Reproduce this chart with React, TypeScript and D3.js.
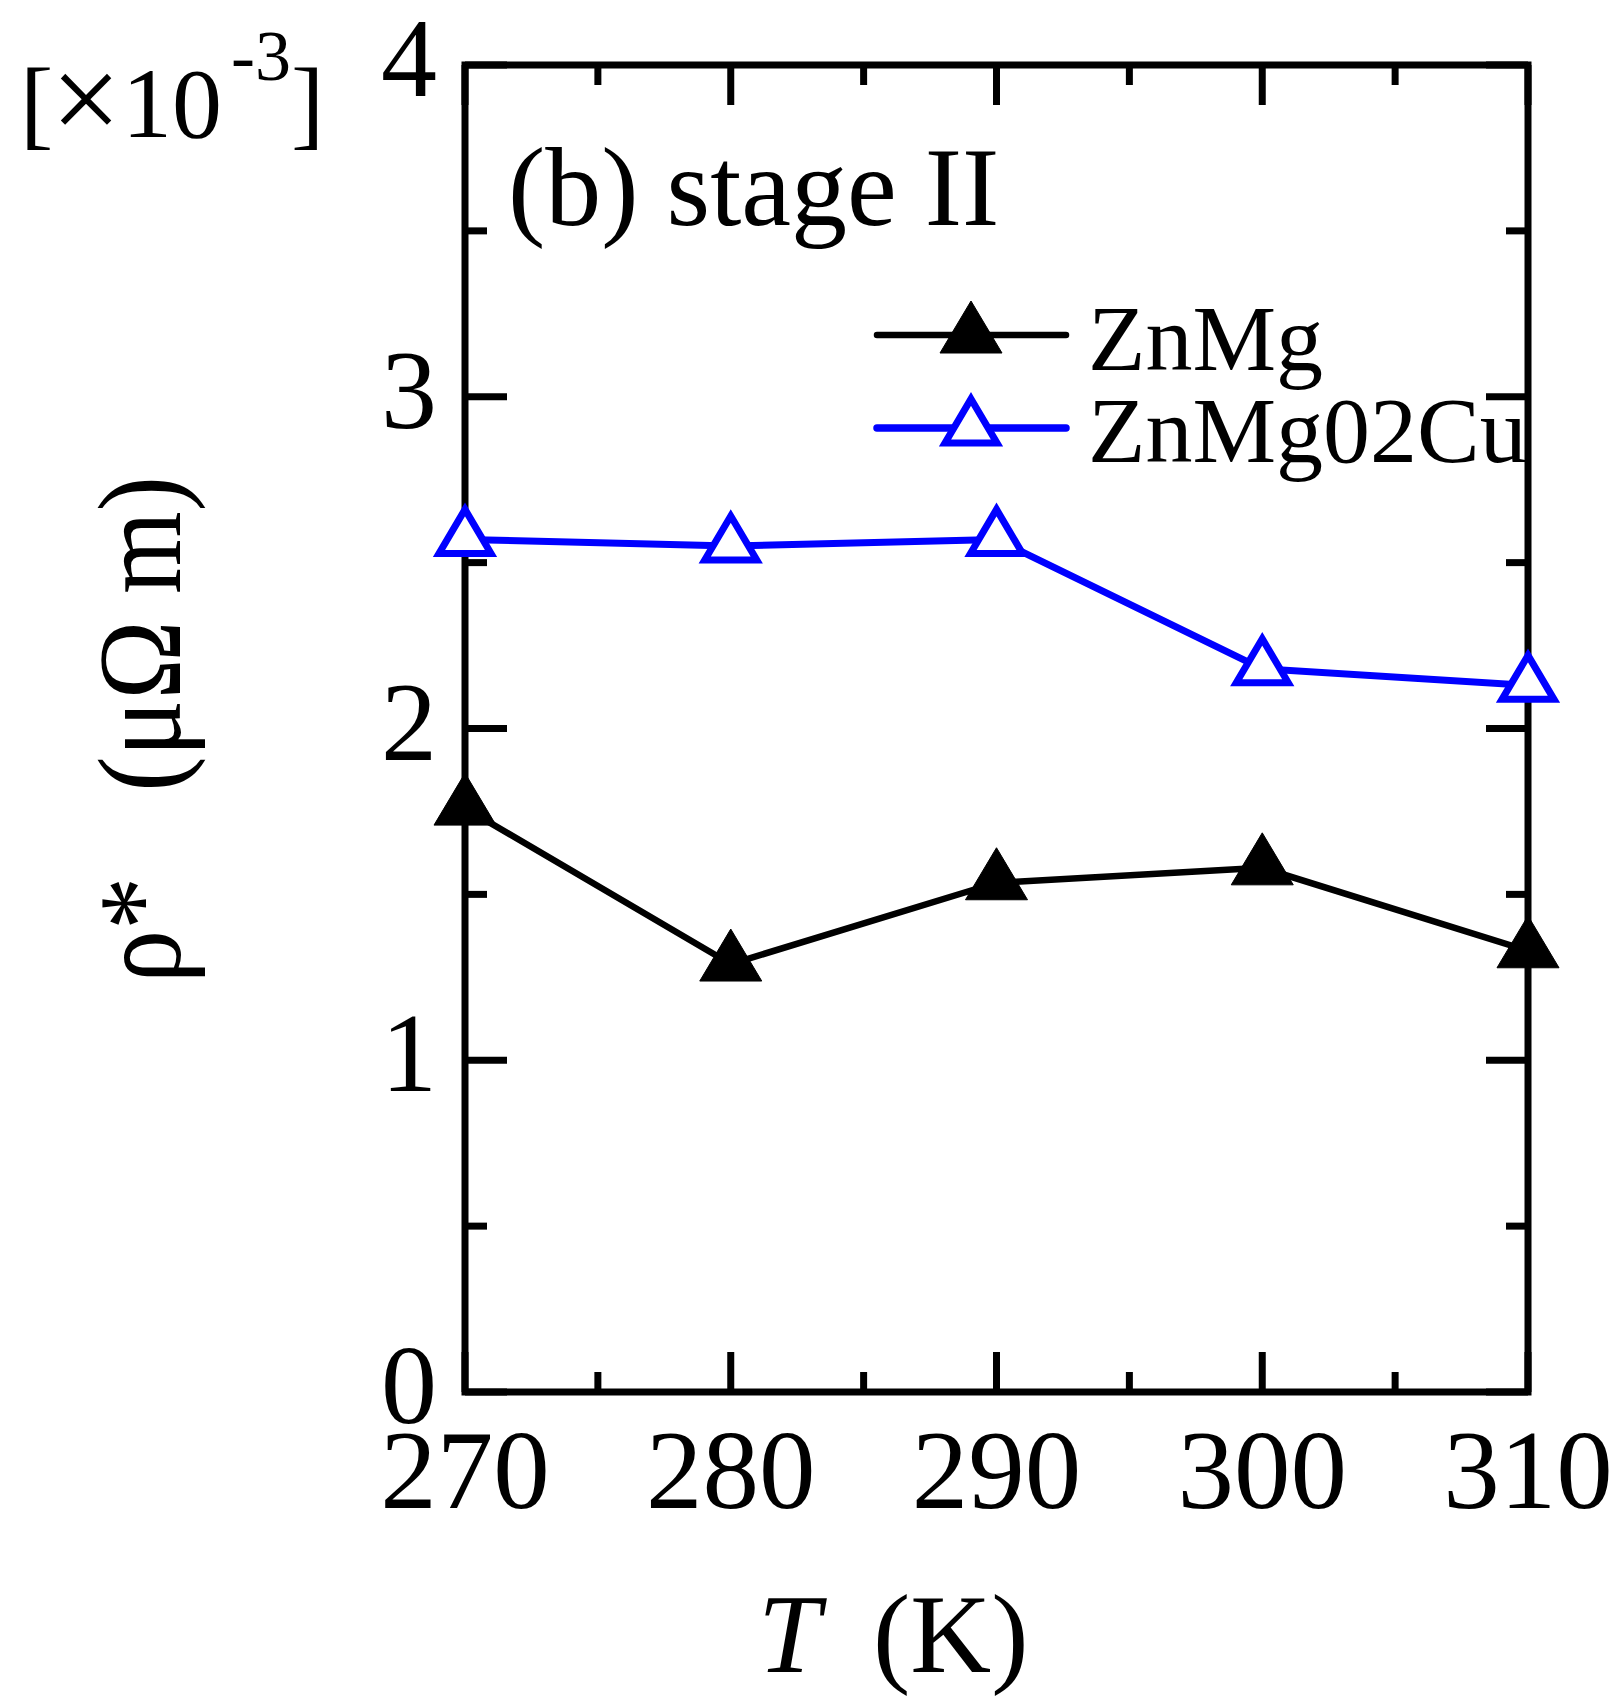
import React from "react";
import * as d3 from "d3";

// Temperatures (K) and ρ* values (×10⁻³ μΩ m) for stage II
const temps = [270, 280, 290, 300, 310];
const znMg = [1.76, 1.29, 1.535, 1.58, 1.33];
const znMg02Cu = [2.57, 2.55, 2.57, 2.18, 2.13];

const xMajor = [270, 280, 290, 300, 310];
const xMinor = [275, 285, 295, 305];
const yMajor = [0, 1, 2, 3, 4];
const yMinor = [0.5, 1.5, 2.5, 3.5];

const seriesNames = ["ZnMg", "ZnMg02Cu"];

const W = 1619;
const H = 1697;
const FONT = "'Liberation Serif', 'Times New Roman', Times, serif";

const x = d3.scaleLinear().domain([270, 310]).range([465, 1528]);
const y = d3.scaleLinear().domain([0, 4]).range([1392, 65]);

const filledTri = "M0,-35 L31,17 L-31,17 Z";
const openTri = "M0,-30 L26,14 L-26,14 Z";

export default function App() {
  const line = d3
    .line<number>()
    .x((_, i) => x(temps[i]))
    .y((d) => y(d));

  const [x0, x1] = x.range();
  const [yb, yt] = y.range();
  const major = 42;
  const minor = 22;
  const axisW = 7;

  return (
    <svg
      width={W}
      height={H}
      style={{ position: "absolute", left: 0, top: 0, background: "#fff" }}
      fontFamily={FONT}
    >
      <rect width={W} height={H} fill="#fff" />

      {/* frame */}
      <rect
        x={x0}
        y={yt}
        width={x1 - x0}
        height={yb - yt}
        fill="none"
        stroke="#000"
        strokeWidth={axisW}
      />

      {/* x ticks, bottom and top, pointing inward */}
      {xMajor.concat(xMinor).map((t) => {
        const len = xMajor.includes(t) ? major - 2 : minor - 2;
        return (
          <g key={"xt" + t} stroke="#000" strokeWidth={axisW}>
            <line x1={x(t)} x2={x(t)} y1={yb} y2={yb - len} />
            <line x1={x(t)} x2={x(t)} y1={yt} y2={yt + len} />
          </g>
        );
      })}

      {/* y ticks, left and right, pointing inward */}
      {yMajor.concat(yMinor).map((t) => {
        const len = yMajor.includes(t) ? major : minor;
        return (
          <g key={"yt" + t} stroke="#000" strokeWidth={axisW}>
            <line x1={x0} x2={x0 + len} y1={y(t)} y2={y(t)} />
            <line x1={x1} x2={x1 - len} y1={y(t)} y2={y(t)} />
          </g>
        );
      })}

      {/* tick labels */}
      {xMajor.map((t) => (
        <text
          key={"xl" + t}
          x={x(t)}
          y={1508}
          fontSize={113}
          textAnchor="middle"
          fill="#000"
        >
          {t}
        </text>
      ))}
      {yMajor.map((t) => (
        <text
          key={"yl" + t}
          x={437}
          y={y(t) + 31}
          fontSize={112}
          textAnchor="end"
          fill="#000"
        >
          {t}
        </text>
      ))}

      {/* scale factor */}
      <g fill="#000">
        <text x={20} y={137} fontSize={100}>[</text>
        <text x={51} y={141} fontSize={124}>×</text>
        <text x={122} y={137} fontSize={100}>10</text>
        <text x={231} y={80} fontSize={72}>-3</text>
        <text x={291} y={137} fontSize={100}>]</text>
      </g>

      {/* panel label */}
      <text x={508} y={225} fontSize={112} fill="#000">
        (b) stage II
      </text>

      {/* axis titles */}
      <text x={758} y={1672} fontSize={112} fontStyle="italic" fill="#000">
        T
      </text>
      <text x={873} y={1672} fontSize={112} fill="#000">
        (K)
      </text>
      <g transform="translate(180,0)">
        <text
          transform="translate(0,983) rotate(-90) scale(0.9,1)"
          fontSize={118}
          fill="#000"
        >
          ρ*
        </text>
        <text
          transform="translate(0,476) rotate(-90) scale(0.9,1)"
          fontSize={118}
          textAnchor="end"
          fill="#000"
        >
          (μΩ m)
        </text>
      </g>

      {/* ZnMg02Cu series */}
      <path
        d={line(znMg02Cu) || ""}
        fill="none"
        stroke="#0000ff"
        strokeWidth={7}
        strokeLinejoin="round"
      />
      {znMg02Cu.map((v, i) => (
        <path
          key={"b" + i}
          d={openTri}
          transform={`translate(${x(temps[i])},${y(v)})`}
          fill="#fff"
          stroke="#0000ff"
          strokeWidth={7}
        />
      ))}

      {/* ZnMg series */}
      <path
        d={line(znMg) || ""}
        fill="none"
        stroke="#000"
        strokeWidth={6.5}
        strokeLinejoin="round"
      />
      {znMg.map((v, i) => (
        <path
          key={"k" + i}
          d={filledTri}
          transform={`translate(${x(temps[i])},${y(v)})`}
          fill="#000"
          stroke="#000"
          strokeWidth={1}
        />
      ))}

      {/* legend */}
      <g>
        <line
          x1={877}
          x2={1066}
          y1={335}
          y2={335}
          stroke="#000"
          strokeWidth={6.5}
          strokeLinecap="round"
        />
        <path d={filledTri} transform="translate(971,336)" fill="#000" stroke="#000" strokeWidth={1} />
        <text x={1088} y={370} fontSize={94} fill="#000">
          {seriesNames[0]}
        </text>
        <line
          x1={877}
          x2={1066}
          y1={428}
          y2={428}
          stroke="#0000ff"
          strokeWidth={7.5}
          strokeLinecap="round"
        />
        <path
          d={openTri}
          transform="translate(971,429)"
          fill="#fff"
          stroke="#0000ff"
          strokeWidth={7}
        />
        <text x={1088} y={462} fontSize={94} fill="#000">
          {seriesNames[1]}
        </text>
      </g>
    </svg>
  );
}
